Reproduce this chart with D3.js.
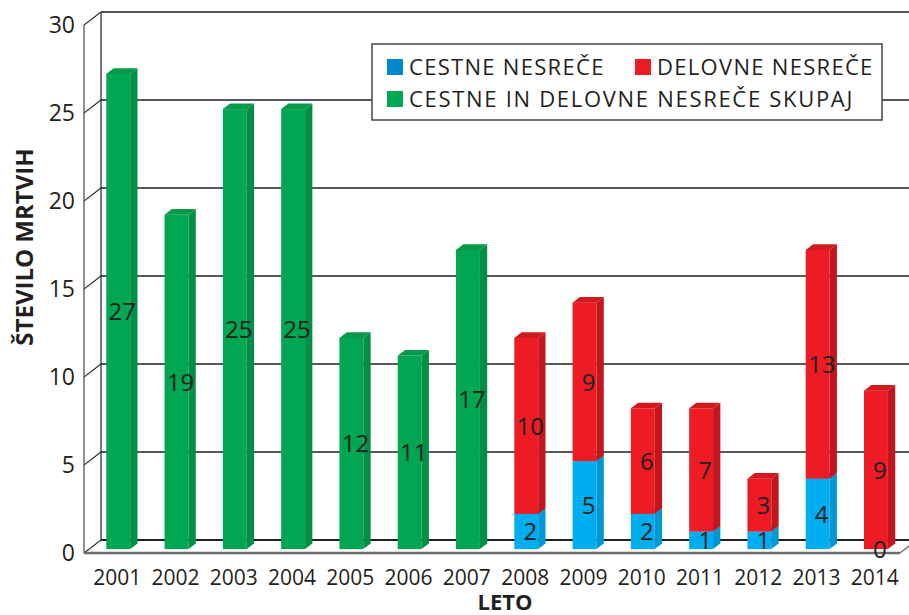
<!DOCTYPE html>
<html>
<head>
<meta charset="utf-8">
<script src="https://cdn.jsdelivr.net/npm/d3@7"></script>
<style>
  body { margin: 0; background: #fff; }
  svg { display: block; font-family: "Open Sans", "Noto Sans", sans-serif; }
</style>
</head>
<body>
<div id="chart"></div>
<script>
// data
var years = ["2001","2002","2003","2004","2005","2006","2007","2008","2009","2010","2011","2012","2013","2014"];
var skupaj = [27, 19, 25, 25, 12, 11, 17, null, null, null, null, null, null, null];
var cestne = [null, null, null, null, null, null, null, 2, 5, 2, 1, 1, 4, 0];
var delovne = [null, null, null, null, null, null, null, 10, 9, 6, 7, 3, 13, 9];
var yTicks = [0, 5, 10, 15, 20, 25, 30];
var legendItems = ["CESTNE NESREČE", "DELOVNE NESREČE", "CESTNE IN DELOVNE NESREČE SKUPAJ"];

var W = 909, H = 615;
var depthX = 17, depthY = 13;      // depth of the 3d box
var barF = 0.3, barD = 0.43;       // where the bars sit inside the depth

var colors = {
  cestne: { front: "#00aeef", side: "#0098d4", top: "#0aa2dd" },
  delovne: { front: "#ed1c24", side: "#c3161c", top: "#d2191f" },
  skupaj: { front: "#00a651", side: "#008f45", top: "#07994a" }
};

var svg = d3.select("#chart").append("svg")
  .attr("width", W)
  .attr("height", H);

var x = d3.scaleBand()
  .domain(years)
  .range([84, 900])
  .paddingInner(0.59)
  .paddingOuter(0.295);

var y = d3.scaleLinear()
  .domain([0, 30])
  .range([553, 25]);

var lineCol = "#231f20";

// back wall grid lines
svg.append("g").selectAll("line")
  .data(yTicks)
  .enter().append("line")
  .attr("x1", 84 + depthX)
  .attr("x2", W)
  .attr("y1", d => y(d) - depthY)
  .attr("y2", d => y(d) - depthY)
  .attr("stroke", lineCol)
  .attr("stroke-width", d => d == 0 ? 2 : 1.4);

// back wall left edge
svg.append("line")
  .attr("x1", 84 + depthX).attr("x2", 84 + depthX)
  .attr("y1", y(30) - depthY).attr("y2", y(0) - depthY)
  .attr("stroke", lineCol).attr("stroke-width", 1.2);

// side wall connectors from front axis to back wall
svg.append("g").selectAll("line")
  .data(yTicks)
  .enter().append("line")
  .attr("x1", 84)
  .attr("x2", 84 + depthX)
  .attr("y1", d => y(d))
  .attr("y2", d => y(d) - depthY)
  .attr("stroke", "#333").attr("stroke-width", 1.1);

// front vertical axis
svg.append("line")
  .attr("x1", 84).attr("x2", 84)
  .attr("y1", y(30)).attr("y2", y(0))
  .attr("stroke", "#555").attr("stroke-width", 1.3);

// floor front edge
svg.append("line")
  .attr("x1", 84).attr("x2", 900)
  .attr("y1", y(0)).attr("y2", y(0))
  .attr("stroke", "#6d6e71").attr("stroke-width", 2.5);
svg.append("line")
  .attr("x1", 900).attr("x2", 900 + depthX)
  .attr("y1", y(0)).attr("y2", y(0) - depthY)
  .attr("stroke", "#6d6e71").attr("stroke-width", 1.3);

// y tick labels
svg.append("g").selectAll("text")
  .data(yTicks)
  .enter().append("text")
  .attr("x", 75)
  .attr("y", d => y(d))
  .attr("dy", "0.36em")
  .attr("text-anchor", "end")
  .style("font-size", "23px")
  .style("fill", lineCol)
  .text(d => d);

// build segments
var segs = [];
years.forEach(function (yr, i) {
  if (skupaj[i] != null) {
    segs.push({ year: yr, y0: 0, y1: skupaj[i], key: "skupaj" });
  }
  if (cestne[i] != null) {
    segs.push({ year: yr, y0: 0, y1: cestne[i], key: "cestne" });
    segs.push({ year: yr, y0: cestne[i], y1: cestne[i] + delovne[i], key: "delovne" });
  }
});

var offX = barF * depthX, offY = barF * depthY;
var bdX = barD * depthX, bdY = barD * depthY;

var bars = svg.append("g");
segs.forEach(function (s) {
  if (s.y1 == s.y0) return;
  var c = colors[s.key];
  var x0 = x(s.year) + offX, x1 = x0 + x.bandwidth();
  var top = y(s.y1) - offY, bot = y(s.y0) - offY;
  bars.append("rect")
    .attr("x", x0).attr("y", top)
    .attr("width", x.bandwidth()).attr("height", bot - top)
    .attr("fill", c.front);
  bars.append("path")
    .attr("d", `M${x1},${top}L${x1 + bdX},${top - bdY}L${x1 + bdX},${bot - bdY}L${x1},${bot}Z`)
    .attr("fill", c.side);
  bars.append("path")
    .attr("d", `M${x0},${top}L${x0 + bdX},${top - bdY}L${x1 + bdX},${top - bdY}L${x1},${top}Z`)
    .attr("fill", c.top);
});

// value labels
svg.append("g").selectAll("text")
  .data(segs)
  .enter().append("text")
  .attr("x", d => x(d.year) + offX + x.bandwidth() / 2 + 4)
  .attr("y", d => (y(d.y0) + y(d.y1)) / 2 - offY)
  .attr("dy", "0.36em")
  .attr("text-anchor", "middle")
  .style("font-size", "24px")
  .style("fill", lineCol)
  .text(d => d.y1 - d.y0);

// x labels
svg.append("g").selectAll("text")
  .data(years)
  .enter().append("text")
  .attr("x", d => x(d) + x.bandwidth() / 2 + 4)
  .attr("y", 585)
  .attr("text-anchor", "middle")
  .style("font-size", "21px")
  .style("fill", lineCol)
  .text(d => d);

// axis titles
svg.append("text")
  .attr("x", 505).attr("y", 610)
  .attr("text-anchor", "middle")
  .style("font-size", "22px").style("font-weight", "bold")
  .style("fill", lineCol)
  .text("LETO");

svg.append("text")
  .attr("transform", "translate(33,247) rotate(-90)")
  .attr("text-anchor", "middle")
  .style("font-size", "24px").style("font-weight", "bold")
  .style("fill", lineCol)
  .text("ŠTEVILO MRTVIH");

// legend
var lg = svg.append("g");
lg.append("rect")
  .attr("x", 372).attr("y", 44)
  .attr("width", 510).attr("height", 76)
  .attr("fill", "#fff")
  .attr("stroke", "#444").attr("stroke-width", 1.5);

var legendPos = [
  { x: 387, y: 59, key: "cestne" },
  { x: 635, y: 59, key: "delovne" },
  { x: 387, y: 91, key: "skupaj" }
];
legendPos.forEach(function (p, i) {
  lg.append("rect")
    .attr("x", p.x).attr("y", p.y)
    .attr("width", 16).attr("height", 16)
    .attr("fill", i == 0 ? "#0089cf" : colors[p.key].front);
  lg.append("text")
    .attr("x", p.x + 22).attr("y", p.y + 16)
    .style("font-size", "22px")
    .style("letter-spacing", i == 2 ? "1.7px" : "1.3px")
    .style("fill", lineCol)
    .text(legendItems[i]);
});
</script>
</body>
</html>
